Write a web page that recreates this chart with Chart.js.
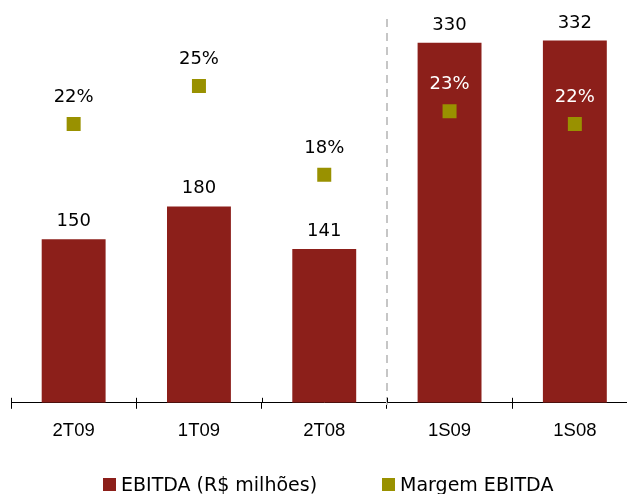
<!DOCTYPE html>
<html lang="pt-BR">
<head>
<meta charset="utf-8">
<title>EBITDA e Margem EBITDA</title>
<script src="https://cdn.jsdelivr.net/npm/chart.js@4.4.1/dist/chart.umd.min.js"></script>
<style>
    html, body { margin: 0; padding: 0; background: #fff; }
    #contenedor { position: relative; width: 627px; height: 494px; overflow: hidden; }
    #grafico { position: absolute; left: 0; top: 0; }
    #leyenda {
        position: absolute; left: 103px; top: 473px;
        display: flex; white-space: nowrap;
        font-family: "DejaVu Sans", Verdana, sans-serif; font-size: 19px; color: #000;
    }
    .item { display: flex; align-items: center; margin-right: 65px; }
    .caja { width: 13px; height: 13px; margin-right: 5px; }
</style>
</head>
<body>
<div id="contenedor">
    <canvas id="grafico" width="640" height="494"></canvas>
    <div id="leyenda"></div>
</div>
<script>
// Datos del gráfico
const categorias = ['2T09', '1T09', '2T08', '1S09', '1S08'];
const ebitda = [150, 180, 141, 330, 332];      // R$ milhões
const margem = [22, 25, 18, 23, 22];           // %
const indiceSeparador = 2;                      // línea punteada después de esta categoría

const VINO = '#8c1f1a';
const OLIVA = '#999100';
const FUENTE_VALORES = '18px "DejaVu Sans", Verdana, sans-serif';

/**
 * Etiquetas de valor sobre barras y marcadores
 */
const etiquetas = {
    id: 'etiquetas',
    afterDatasetsDraw(chart) {
        const ctx = chart.ctx;
        const metaBarras = chart.getDatasetMeta(1);
        const metaMargem = chart.getDatasetMeta(0);

        ctx.save();
        ctx.font = FUENTE_VALORES;
        ctx.textAlign = 'center';
        ctx.textBaseline = 'alphabetic';

        metaBarras.data.forEach((barra, i) => {
            ctx.fillStyle = '#000';
            ctx.fillText(String(ebitda[i]), barra.x, barra.y - 13);
        });

        metaMargem.data.forEach((punto, i) => {
            const yTexto = punto.y - 22;
            // Si el texto cae dentro de la barra se pinta en blanco
            const barra = metaBarras.data[i];
            ctx.fillStyle = (barra && barra.y < yTexto - 16) ? '#fff' : '#000';
            ctx.fillText(margem[i] + '%', punto.x, yTexto);
        });
        ctx.restore();
    }
};

/**
 * Línea punteada separadora y marcas del eje que cruzan la línea base
 */
const separador = {
    id: 'separador',
    beforeDatasetsDraw(chart) {
        const ctx = chart.ctx;
        const x = chart.scales.x;
        const area = chart.chartArea;
        const xSep = (x.getPixelForValue(indiceSeparador) + x.getPixelForValue(indiceSeparador + 1)) / 2;

        ctx.save();
        ctx.strokeStyle = '#c6c6c6';
        ctx.lineWidth = 2;
        ctx.setLineDash([8, 6]);
        ctx.beginPath();
        ctx.moveTo(Math.round(xSep), area.top + 9);
        ctx.lineTo(Math.round(xSep), area.bottom + 6);
        ctx.stroke();
        ctx.restore();
    },
    afterDatasetsDraw(chart) {
        const ctx = chart.ctx;
        const x = chart.scales.x;
        const area = chart.chartArea;
        const mitad = (x.getPixelForValue(1) - x.getPixelForValue(0)) / 2;

        ctx.save();
        ctx.strokeStyle = '#000';
        ctx.lineWidth = 1;
        ctx.beginPath();
        for (let i = 0; i <= categorias.length; i++) {
            const px = Math.round(x.getPixelForValue(0) - mitad + i * mitad * 2) + 0.5;
            ctx.moveTo(px, area.bottom - 5);
            ctx.lineTo(px, area.bottom);
        }
        ctx.stroke();
        ctx.restore();
    }
};

const grafico = new Chart(document.getElementById('grafico'), {
    type: 'bar',
    data: {
        labels: categorias,
        datasets: [
            {
                type: 'line',
                label: 'Margem EBITDA',
                data: margem,
                yAxisID: 'y1',
                showLine: false,
                pointStyle: 'rect',
                pointRadius: 9.9,
                pointHoverRadius: 9.9,
                pointBorderWidth: 0,
                pointBackgroundColor: OLIVA,
                backgroundColor: OLIVA,
                order: 0
            },
            {
                label: 'EBITDA (R$ milhões)',
                data: ebitda,
                yAxisID: 'y',
                backgroundColor: VINO,
                barPercentage: 0.51,
                categoryPercentage: 1,
                order: 1
            }
        ]
    },
    options: {
        responsive: false,
        animation: false,
        layout: { autoPadding: false, padding: { left: 11, right: 2.5, top: 10, bottom: 41 } },
        plugins: {
            legend: { display: false },
            tooltip: { enabled: false }
        },
        scales: {
            x: {
                grid: { display: true, drawOnChartArea: false, tickLength: 6, color: '#000', offset: true },
                border: { color: '#000' },
                ticks: {
                    color: '#000',
                    padding: 11,
                    font: { family: '"Liberation Sans", Arial, sans-serif', size: 18.5 }
                }
            },
            y: { display: false, min: 0, max: 360 },
            y1: { display: false, min: 0, max: 31, position: 'right' }
        }
    },
    plugins: [etiquetas, separador]
});

// Leyenda en HTML a partir de los datasets (barras primero)
const leyenda = document.getElementById('leyenda');
[1, 0].forEach(idx => {
    const ds = grafico.data.datasets[idx];
    const item = document.createElement('span');
    item.className = 'item';
    const caja = document.createElement('span');
    caja.className = 'caja';
    caja.style.background = ds.backgroundColor;
    const texto = document.createElement('span');
    texto.textContent = ds.label;
    item.appendChild(caja);
    item.appendChild(texto);
    leyenda.appendChild(item);
});
</script>
</body>
</html>
